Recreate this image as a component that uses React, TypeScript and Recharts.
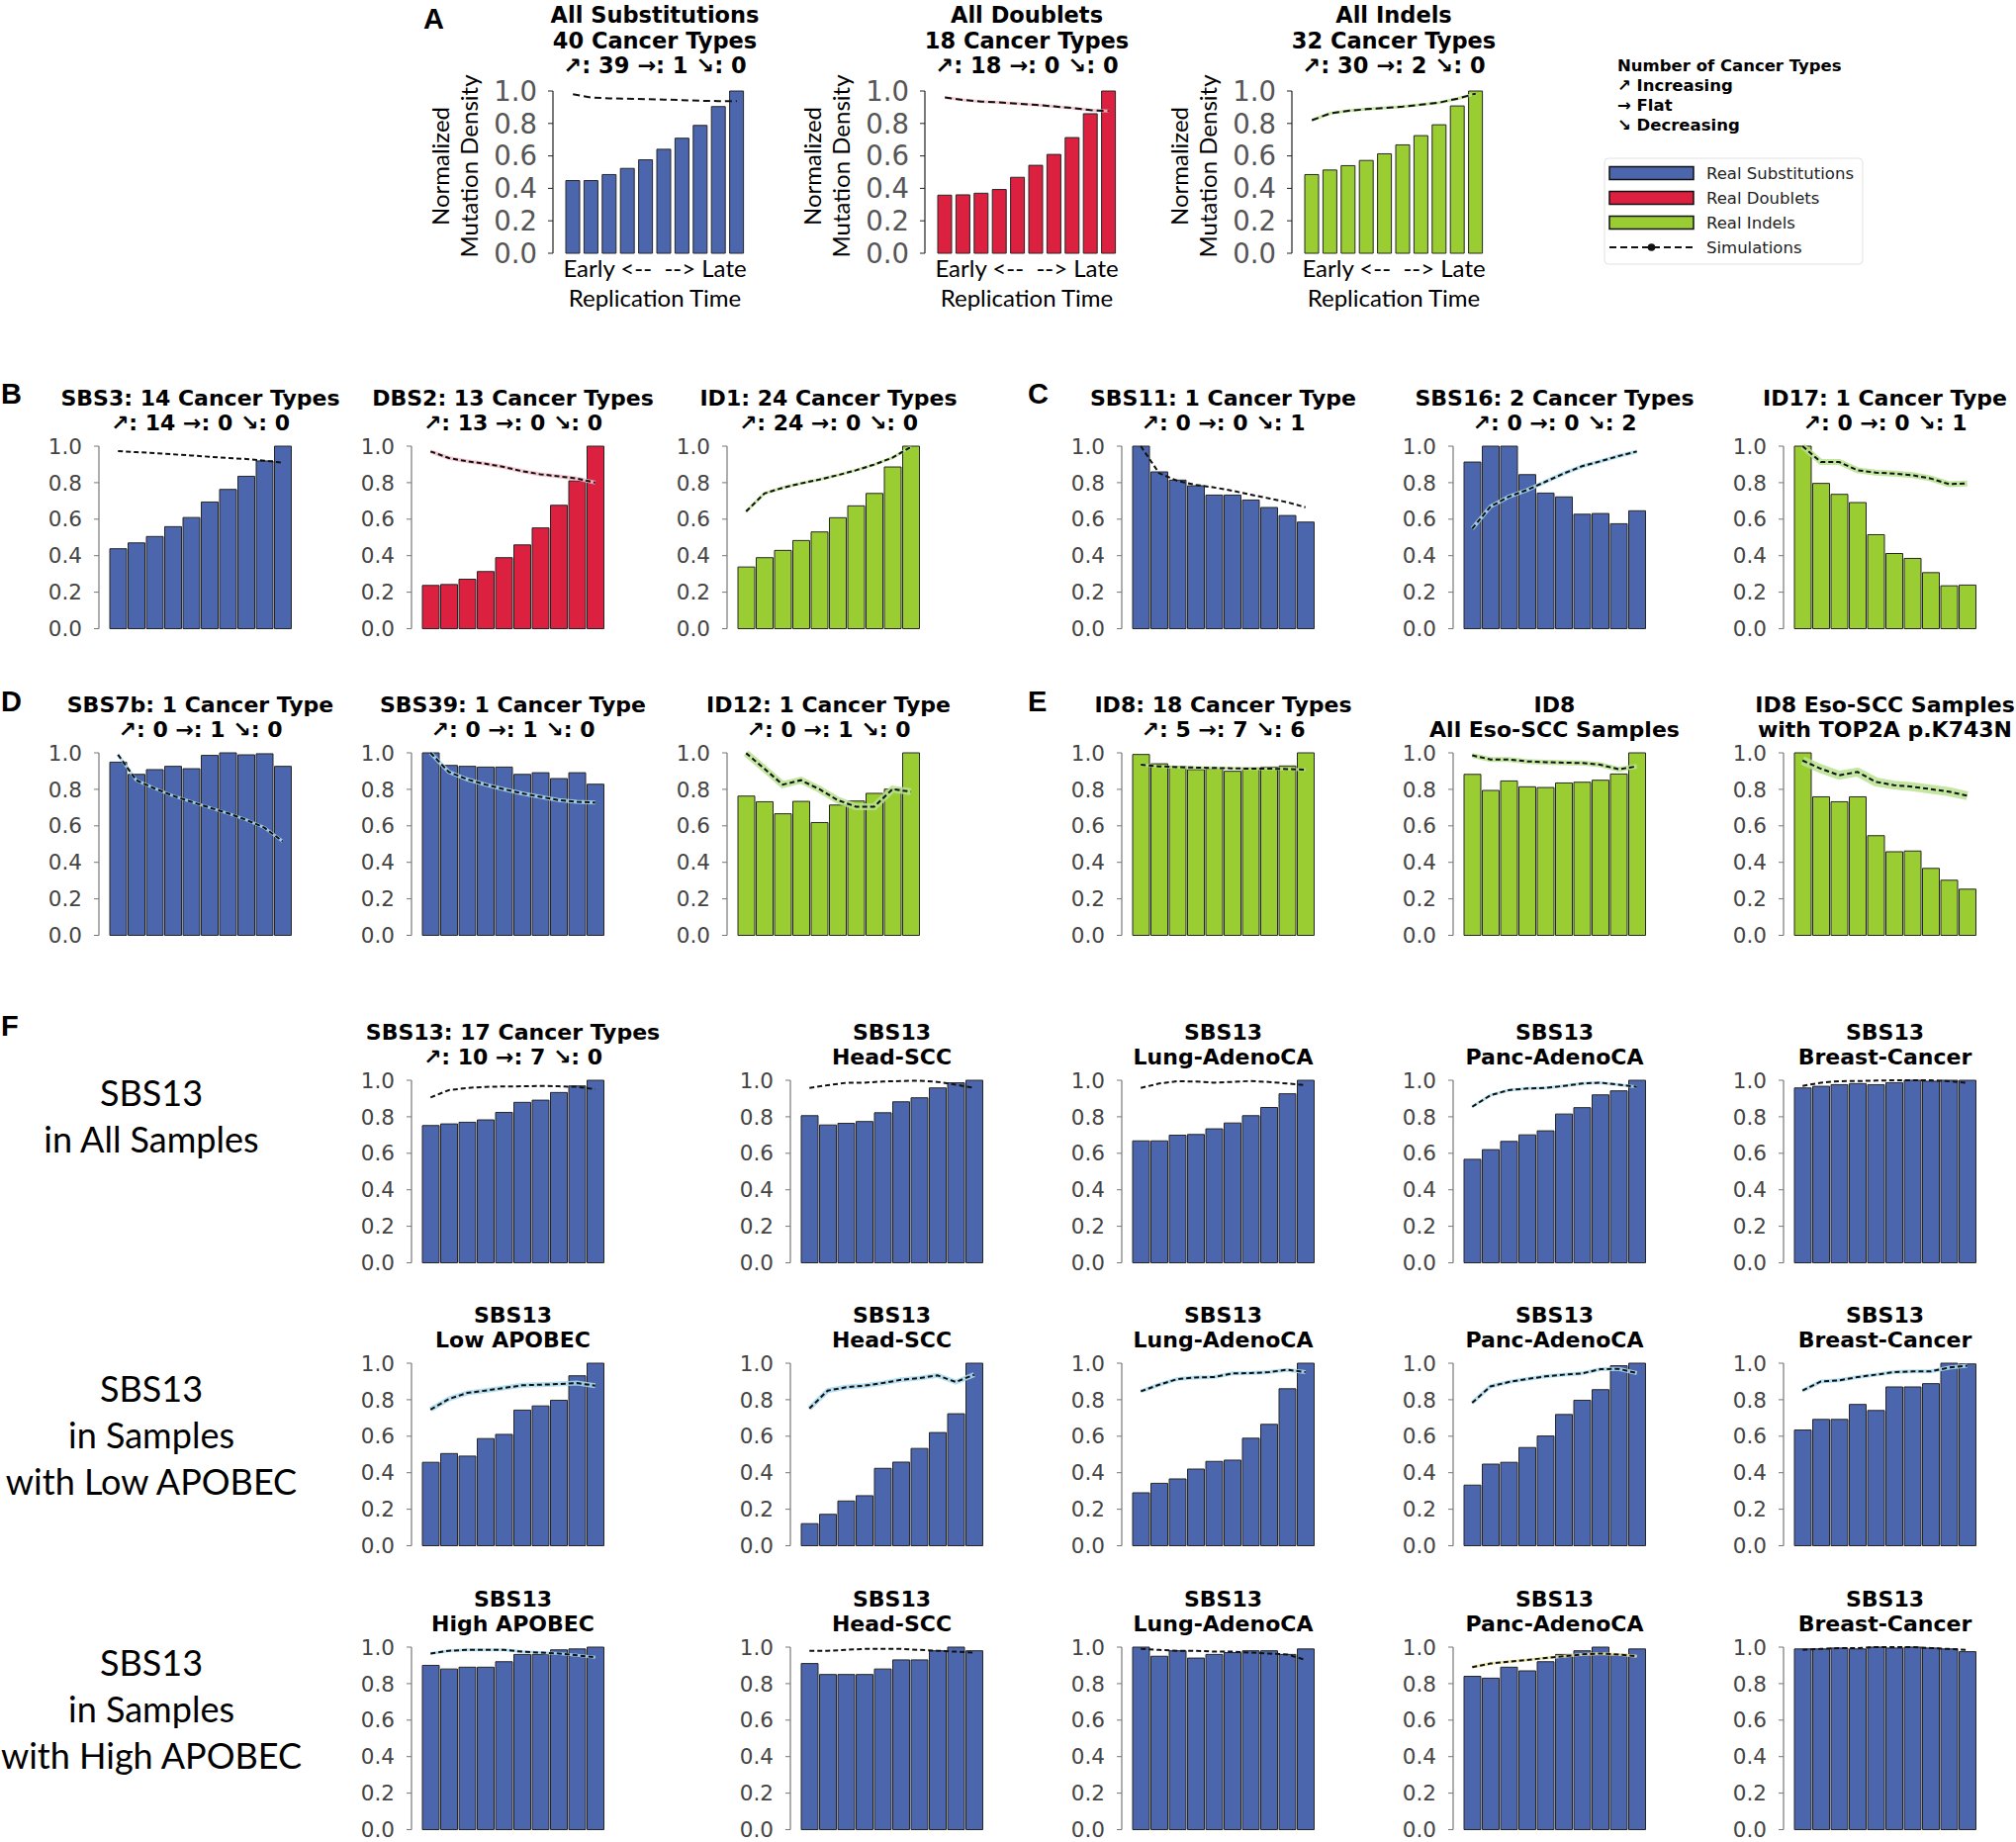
import React from 'react';
import { ComposedChart, Bar, Line, XAxis, YAxis } from 'recharts';

// ---------- shared categories / ticks ----------
const BINS = ['1', '2', '3', '4', '5', '6', '7', '8', '9', '10'];
const Y_TICKS = [0, 0.2, 0.4, 0.6, 0.8, 1.0];

// ---------- Panel A ----------
const allSubsReal = [0.448, 0.448, 0.485, 0.523, 0.576, 0.641, 0.709, 0.788, 0.904, 1.0];
const allSubsSim = [0.98, 0.96, 0.955, 0.953, 0.95, 0.947, 0.944, 0.94, 0.938, 0.937];
const allDoubletsReal = [0.358, 0.36, 0.37, 0.393, 0.468, 0.542, 0.609, 0.713, 0.86, 1.0];
const allDoubletsSim = [0.96, 0.945, 0.935, 0.93, 0.922, 0.915, 0.905, 0.895, 0.882, 0.876];
const allIndelsReal = [0.485, 0.513, 0.54, 0.572, 0.613, 0.668, 0.725, 0.792, 0.908, 1.0];
const allIndelsSim = [0.82, 0.862, 0.878, 0.888, 0.896, 0.904, 0.916, 0.929, 0.953, 0.984];

// ---------- Panel B ----------
const sbs3Real = [0.438, 0.47, 0.505, 0.559, 0.609, 0.694, 0.763, 0.835, 0.919, 1.0];
const sbs3Sim = [0.973, 0.967, 0.962, 0.955, 0.949, 0.942, 0.935, 0.93, 0.92, 0.91];
const dbs2Real = [0.237, 0.242, 0.271, 0.313, 0.389, 0.459, 0.552, 0.676, 0.81, 1.0];
const dbs2Sim = [0.971, 0.935, 0.917, 0.904, 0.886, 0.863, 0.846, 0.835, 0.823, 0.8];
const id1Real = [0.338, 0.389, 0.429, 0.483, 0.53, 0.608, 0.673, 0.741, 0.886, 1.0];
const id1Sim = [0.642, 0.741, 0.772, 0.796, 0.817, 0.841, 0.868, 0.899, 0.937, 0.995];

// ---------- Panel C ----------
const sbs11Real = [1.0, 0.859, 0.814, 0.783, 0.732, 0.732, 0.705, 0.664, 0.62, 0.584];
const sbs11Sim = [1.0, 0.852, 0.81, 0.788, 0.774, 0.756, 0.734, 0.714, 0.693, 0.665];
const sbs16Real = [0.913, 1.0, 1.0, 0.844, 0.743, 0.722, 0.627, 0.631, 0.575, 0.646];
const sbs16Sim = [0.548, 0.669, 0.723, 0.76, 0.805, 0.85, 0.89, 0.917, 0.946, 0.971];
const id17Real = [1.0, 0.796, 0.736, 0.691, 0.515, 0.412, 0.385, 0.307, 0.235, 0.239];
const id17Sim = [1.0, 0.913, 0.913, 0.868, 0.855, 0.85, 0.841, 0.823, 0.792, 0.796];

// ---------- Panel D ----------
const sbs7bReal = [0.949, 0.882, 0.908, 0.926, 0.913, 0.986, 1.0, 0.989, 0.995, 0.926];
const sbs7bSim = [0.99, 0.85, 0.805, 0.765, 0.732, 0.7, 0.669, 0.633, 0.59, 0.515];
const sbs39Real = [1.0, 0.931, 0.926, 0.922, 0.922, 0.882, 0.891, 0.859, 0.891, 0.828];
const sbs39Sim = [1.0, 0.895, 0.855, 0.826, 0.801, 0.778, 0.759, 0.741, 0.732, 0.727];
const id12Real = [0.763, 0.732, 0.666, 0.734, 0.618, 0.714, 0.736, 0.778, 0.801, 1.0];
const id12Sim = [0.998, 0.913, 0.826, 0.85, 0.801, 0.741, 0.705, 0.705, 0.801, 0.787];

// ---------- Panel E ----------
const id8Real = [0.991, 0.94, 0.926, 0.908, 0.913, 0.899, 0.917, 0.922, 0.928, 1.0];
const id8Sim = [0.935, 0.926, 0.922, 0.919, 0.917, 0.915, 0.913, 0.913, 0.911, 0.908];
const id8EsoReal = [0.882, 0.794, 0.846, 0.814, 0.81, 0.835, 0.839, 0.85, 0.884, 1.0];
const id8EsoSim = [0.986, 0.964, 0.964, 0.953, 0.949, 0.946, 0.944, 0.935, 0.91, 0.926];
const id8TopReal = [1.0, 0.759, 0.732, 0.759, 0.546, 0.458, 0.462, 0.367, 0.302, 0.253];
const id8TopSim = [0.958, 0.913, 0.877, 0.895, 0.841, 0.823, 0.814, 0.801, 0.787, 0.765];

// ---------- Panel F, row 1 (all samples) ----------
const f1AllReal = [0.752, 0.761, 0.77, 0.783, 0.824, 0.879, 0.891, 0.933, 0.969, 1.0];
const f1AllSim = [0.906, 0.946, 0.958, 0.964, 0.966, 0.967, 0.969, 0.967, 0.964, 0.951];
const f1HeadReal = [0.806, 0.755, 0.764, 0.774, 0.822, 0.882, 0.904, 0.958, 0.986, 1.0];
const f1HeadSim = [0.958, 0.973, 0.986, 0.987, 0.993, 0.996, 0.998, 0.991, 0.976, 0.958];
const f1LungReal = [0.668, 0.668, 0.699, 0.703, 0.734, 0.766, 0.806, 0.851, 0.926, 1.0];
const f1LungSim = [0.958, 0.982, 0.995, 0.993, 0.987, 0.991, 0.996, 0.991, 0.982, 0.973];
const f1PancReal = [0.567, 0.62, 0.665, 0.701, 0.723, 0.815, 0.85, 0.92, 0.942, 1.0];
const f1PancSim = [0.855, 0.918, 0.946, 0.955, 0.958, 0.969, 0.982, 0.987, 0.976, 0.964];
const f1BreastReal = [0.958, 0.967, 0.976, 0.982, 0.976, 0.987, 1.0, 0.995, 1.0, 1.0];
const f1BreastSim = [0.969, 0.987, 0.995, 0.996, 0.998, 1.0, 1.0, 1.0, 0.995, 0.986];

// ---------- Panel F, row 2 (low APOBEC) ----------
const f2AllReal = [0.457, 0.505, 0.491, 0.587, 0.61, 0.743, 0.766, 0.797, 0.931, 1.0];
const f2AllSim = [0.746, 0.804, 0.837, 0.85, 0.864, 0.879, 0.882, 0.886, 0.891, 0.877];
const f2HeadReal = [0.121, 0.172, 0.245, 0.274, 0.424, 0.458, 0.533, 0.62, 0.723, 1.0];
const f2HeadSim = [0.752, 0.85, 0.868, 0.877, 0.891, 0.909, 0.918, 0.933, 0.897, 0.937];
const f2LungReal = [0.29, 0.342, 0.366, 0.42, 0.462, 0.469, 0.589, 0.665, 0.86, 1.0];
const f2LungSim = [0.846, 0.882, 0.913, 0.922, 0.924, 0.944, 0.946, 0.951, 0.964, 0.951];
const f2PancReal = [0.332, 0.447, 0.457, 0.538, 0.601, 0.719, 0.797, 0.855, 0.986, 1.0];
const f2PancSim = [0.783, 0.873, 0.897, 0.913, 0.928, 0.937, 0.944, 0.967, 0.969, 0.946];
const f2BreastReal = [0.634, 0.692, 0.692, 0.774, 0.741, 0.87, 0.87, 0.888, 1.0, 0.996];
const f2BreastSim = [0.85, 0.9, 0.906, 0.924, 0.937, 0.951, 0.955, 0.955, 0.976, 0.986];

// ---------- Panel F, row 3 (high APOBEC) ----------
const f3AllReal = [0.9, 0.88, 0.89, 0.89, 0.92, 0.96, 0.96, 0.985, 0.99, 1.0];
const f3AllSim = [0.965, 0.98, 0.985, 0.985, 0.985, 0.975, 0.97, 0.965, 0.955, 0.945];
const f3HeadReal = [0.91, 0.85, 0.85, 0.85, 0.88, 0.93, 0.93, 0.98, 1.0, 0.98];
const f3HeadSim = [0.98, 0.98, 0.985, 0.99, 0.99, 0.99, 0.985, 0.98, 0.975, 0.97];
const f3LungReal = [1.0, 0.95, 0.98, 0.94, 0.96, 0.97, 0.98, 0.98, 0.96, 0.99];
const f3LungSim = [0.99, 0.985, 0.98, 0.98, 0.975, 0.975, 0.97, 0.965, 0.96, 0.93];
const f3PancReal = [0.84, 0.83, 0.89, 0.87, 0.92, 0.96, 0.98, 1.0, 0.96, 0.99];
const f3PancSim = [0.89, 0.91, 0.92, 0.93, 0.94, 0.95, 0.96, 0.965, 0.96, 0.95];
const f3BreastReal = [0.99, 0.99, 0.995, 0.99, 1.0, 0.995, 1.0, 0.995, 0.99, 0.975];
const f3BreastSim = [0.985, 0.99, 0.995, 0.995, 1.0, 1.0, 1.0, 0.995, 0.99, 0.985];

// ---------- text ----------
const LEGEND_TITLE = ['Number of Cancer Types', '\u2197 Increasing', '\u2192 Flat', '\u2198 Decreasing'];
const LEGEND_ITEMS = ['Real Substitutions', 'Real Doublets', 'Real Indels', 'Simulations'];

// ---------- styles ----------
const BLUE = '#4c66ae';
const RED = '#dc203f';
const GREEN = '#9acd32';
const LBLUE = '#a9dbee';
const LGREEN = '#b9e28f';
const LPINK = '#f3bfca';

type PanelCfg = {
  real: number[];
  sim: number[];
  color: string;
  band?: string;
  bandW?: number;
  x: number;
  top: number;
  title: string[];
};

const SMALL = { h: 184.5, pad: 10, span: 185, tickFont: 21.5, tickColor: '#444', axisColor: '#777', gap: 1, dash: '5 3', titleSize: 22, titleLH: 25 };
const BIG = { h: 164, pad: 11, span: 184, tickFont: 27.5, tickColor: '#555', axisColor: '#222', gap: 2, dash: '7 4', titleSize: 22.5, titleLH: 25.5 };

const fmt = (v: number) => v.toFixed(1);

function Panel({ cfg, st }: { cfg: PanelCfg; st: typeof SMALL }) {
  const YW = 80;
  const MT = 20;
  const MB = 22;
  const MR = 4;
  const plotW = st.span + 2 * st.pad;
  const data = BINS.map((b, i) => ({ bin: b, real: cfg.real[i], sim: cfg.sim[i] }));
  const cx = cfg.x + plotW / 2;
  const nLines = cfg.title.length;
  const titleTop = cfg.top - 24 - (nLines - 1) * st.titleLH - st.titleLH / 2 - (st === BIG ? 1.5 : 0);
  return (
    <>
      <div
        style={{
          position: 'absolute',
          left: cx - 250,
          width: 500,
          top: titleTop,
          textAlign: 'center',
          fontFamily: 'DejaVu Sans',
          fontWeight: 'bold',
          fontSize: st.titleSize,
          lineHeight: `${st.titleLH}px`,
          color: '#000',
          whiteSpace: 'pre',
        }}
      >
        {cfg.title.join('\n')}
      </div>
      <div style={{ position: 'absolute', left: cfg.x - YW, top: cfg.top - MT }}>
        <ComposedChart
          width={YW + plotW + MR}
          height={MT + st.h + MB}
          data={data}
          margin={{ top: MT, right: MR, bottom: MB, left: 0 }}
          barCategoryGap={st.gap}
        >
          <XAxis dataKey="bin" hide padding={{ left: st.pad, right: st.pad }} />
          <YAxis
            domain={[0, 1]}
            ticks={Y_TICKS}
            interval={0}
            tickFormatter={fmt}
            width={YW}
            tickSize={5}
            tickMargin={st === BIG ? 11 : 12}
            axisLine={{ stroke: st.axisColor, strokeWidth: 1.2 }}
            tickLine={{ stroke: st.axisColor, strokeWidth: 1 }}
            tick={{ fill: st.tickColor, fontSize: st.tickFont, fontFamily: 'DejaVu Sans' }}
          />
          <Bar dataKey="real" fill={cfg.color} stroke="#262626" strokeWidth={1} isAnimationActive={false} />
          {cfg.band ? (
            <Line
              dataKey="sim"
              type="linear"
              stroke={cfg.band}
              strokeWidth={cfg.bandW || 5}
              strokeOpacity={0.85}
              dot={false}
              activeDot={false}
              isAnimationActive={false}
            />
          ) : null}
          <Line
            dataKey="sim"
            type="linear"
            stroke="#111"
            strokeWidth={2}
            strokeDasharray={st.dash}
            dot={false}
            activeDot={false}
            isAnimationActive={false}
          />
        </ComposedChart>
      </div>
    </>
  );
}

const A_PANELS: PanelCfg[] = [
  { real: allSubsReal, sim: allSubsSim, color: BLUE, x: 559, top: 92.3, title: ['All Substitutions', '40 Cancer Types', '\u2197: 39 \u2192: 1 \u2198: 0'] },
  { real: allDoubletsReal, sim: allDoubletsSim, color: RED, band: LPINK, bandW: 3, x: 935, top: 92.3, title: ['All Doublets', '18 Cancer Types', '\u2197: 18 \u2192: 0 \u2198: 0'] },
  { real: allIndelsReal, sim: allIndelsSim, color: GREEN, band: LGREEN, bandW: 3, x: 1306, top: 92.3, title: ['All Indels', '32 Cancer Types', '\u2197: 30 \u2192: 2 \u2198: 0'] },
];

const T_BC = 451;
const T_DE = 761;
const T_F = [1092, 1378, 1665];
const COL_L = [100, 416, 735];
const COL_R = [1134, 1469, 1803];
const COL_F = [416, 799, 1134, 1469, 1803];

const SMALL_PANELS: PanelCfg[] = [
  { real: sbs3Real, sim: sbs3Sim, color: BLUE, x: COL_L[0], top: T_BC, title: ['SBS3: 14 Cancer Types', '\u2197: 14 \u2192: 0 \u2198: 0'] },
  { real: dbs2Real, sim: dbs2Sim, color: RED, band: LPINK, bandW: 4, x: COL_L[1], top: T_BC, title: ['DBS2: 13 Cancer Types', '\u2197: 13 \u2192: 0 \u2198: 0'] },
  { real: id1Real, sim: id1Sim, color: GREEN, band: LGREEN, bandW: 3, x: COL_L[2], top: T_BC, title: ['ID1: 24 Cancer Types', '\u2197: 24 \u2192: 0 \u2198: 0'] },
  { real: sbs11Real, sim: sbs11Sim, color: BLUE, x: COL_R[0], top: T_BC, title: ['SBS11: 1 Cancer Type', '\u2197: 0 \u2192: 0 \u2198: 1'] },
  { real: sbs16Real, sim: sbs16Sim, color: BLUE, band: LBLUE, bandW: 4, x: COL_R[1], top: T_BC, title: ['SBS16: 2 Cancer Types', '\u2197: 0 \u2192: 0 \u2198: 2'] },
  { real: id17Real, sim: id17Sim, color: GREEN, band: LGREEN, bandW: 6, x: COL_R[2], top: T_BC, title: ['ID17: 1 Cancer Type', '\u2197: 0 \u2192: 0 \u2198: 1'] },
  { real: sbs7bReal, sim: sbs7bSim, color: BLUE, band: LBLUE, bandW: 3, x: COL_L[0], top: T_DE, title: ['SBS7b: 1 Cancer Type', '\u2197: 0 \u2192: 1 \u2198: 0'] },
  { real: sbs39Real, sim: sbs39Sim, color: BLUE, band: LBLUE, bandW: 4, x: COL_L[1], top: T_DE, title: ['SBS39: 1 Cancer Type', '\u2197: 0 \u2192: 1 \u2198: 0'] },
  { real: id12Real, sim: id12Sim, color: GREEN, band: LGREEN, bandW: 7, x: COL_L[2], top: T_DE, title: ['ID12: 1 Cancer Type', '\u2197: 0 \u2192: 1 \u2198: 0'] },
  { real: id8Real, sim: id8Sim, color: GREEN, band: LGREEN, bandW: 3, x: COL_R[0], top: T_DE, title: ['ID8: 18 Cancer Types', '\u2197: 5 \u2192: 7 \u2198: 6'] },
  { real: id8EsoReal, sim: id8EsoSim, color: GREEN, band: LGREEN, bandW: 5, x: COL_R[1], top: T_DE, title: ['ID8', 'All Eso-SCC Samples'] },
  { real: id8TopReal, sim: id8TopSim, color: GREEN, band: LGREEN, bandW: 9, x: COL_R[2], top: T_DE, title: ['ID8 Eso-SCC Samples', 'with TOP2A p.K743N'] },
  // F row 1
  { real: f1AllReal, sim: f1AllSim, color: BLUE, x: COL_F[0], top: T_F[0], title: ['SBS13: 17 Cancer Types', '\u2197: 10 \u2192: 7 \u2198: 0'] },
  { real: f1HeadReal, sim: f1HeadSim, color: BLUE, x: COL_F[1], top: T_F[0], title: ['SBS13', 'Head-SCC'] },
  { real: f1LungReal, sim: f1LungSim, color: BLUE, x: COL_F[2], top: T_F[0], title: ['SBS13', 'Lung-AdenoCA'] },
  { real: f1PancReal, sim: f1PancSim, color: BLUE, band: LBLUE, bandW: 3, x: COL_F[3], top: T_F[0], title: ['SBS13', 'Panc-AdenoCA'] },
  { real: f1BreastReal, sim: f1BreastSim, color: BLUE, x: COL_F[4], top: T_F[0], title: ['SBS13', 'Breast-Cancer'] },
  // F row 2
  { real: f2AllReal, sim: f2AllSim, color: BLUE, band: LBLUE, bandW: 5, x: COL_F[0], top: T_F[1], title: ['SBS13', 'Low APOBEC'] },
  { real: f2HeadReal, sim: f2HeadSim, color: BLUE, band: LBLUE, bandW: 5, x: COL_F[1], top: T_F[1], title: ['SBS13', 'Head-SCC'] },
  { real: f2LungReal, sim: f2LungSim, color: BLUE, band: LBLUE, bandW: 4, x: COL_F[2], top: T_F[1], title: ['SBS13', 'Lung-AdenoCA'] },
  { real: f2PancReal, sim: f2PancSim, color: BLUE, band: LBLUE, bandW: 4, x: COL_F[3], top: T_F[1], title: ['SBS13', 'Panc-AdenoCA'] },
  { real: f2BreastReal, sim: f2BreastSim, color: BLUE, band: LBLUE, bandW: 4, x: COL_F[4], top: T_F[1], title: ['SBS13', 'Breast-Cancer'] },
  // F row 3
  { real: f3AllReal, sim: f3AllSim, color: BLUE, band: LBLUE, bandW: 3, x: COL_F[0], top: T_F[2], title: ['SBS13', 'High APOBEC'] },
  { real: f3HeadReal, sim: f3HeadSim, color: BLUE, x: COL_F[1], top: T_F[2], title: ['SBS13', 'Head-SCC'] },
  { real: f3LungReal, sim: f3LungSim, color: BLUE, x: COL_F[2], top: T_F[2], title: ['SBS13', 'Lung-AdenoCA'] },
  { real: f3PancReal, sim: f3PancSim, color: BLUE, band: '#e8e4a0', bandW: 3, x: COL_F[3], top: T_F[2], title: ['SBS13', 'Panc-AdenoCA'] },
  { real: f3BreastReal, sim: f3BreastSim, color: BLUE, x: COL_F[4], top: T_F[2], title: ['SBS13', 'Breast-Cancer'] },
];

const ROW_LABELS = [
  { lines: ['SBS13', 'in All Samples'], firstY: 1104 },
  { lines: ['SBS13', 'in Samples', 'with Low APOBEC'], firstY: 1403 },
  { lines: ['SBS13', 'in Samples', 'with High APOBEC'], firstY: 1680 },
];

const LETTERS = [
  { t: 'A', x: 428, y: 19 },
  { t: 'B', x: 1, y: 398 },
  { t: 'C', x: 1039, y: 398 },
  { t: 'D', x: 1, y: 709 },
  { t: 'E', x: 1039, y: 709 },
  { t: 'F', x: 1, y: 1037 },
];

function Legend() {
  const colors = [BLUE, RED, GREEN];
  return (
    <svg style={{ position: 'absolute', left: 1600, top: 40 }} width={300} height={240}>
      <g fontFamily="DejaVu Sans" fontWeight="bold" fontSize={16.5} fill="#000">
        {LEGEND_TITLE.map((t, i) => (
          <text key={t} x={35} y={26.7 + i * 19.8} dominantBaseline="central">
            {t}
          </text>
        ))}
      </g>
      <rect x={22} y={120} width={261} height={107} rx={4} fill="#fff" stroke="#e2e2e2" strokeWidth={1} />
      {LEGEND_ITEMS.map((t, i) => {
        const y = 135 + i * 25;
        return (
          <g key={t}>
            {i < 3 ? (
              <rect x={27} y={y - 6.5} width={85} height={13} fill={colors[i]} stroke="#111" strokeWidth={1.5} />
            ) : (
              <g>
                <line x1={27} x2={112} y1={y} y2={y} stroke="#111" strokeWidth={2} strokeDasharray="7 4" />
                <circle cx={69.5} cy={y} r={3.8} fill="#111" />
              </g>
            )}
            <text x={125} y={y} dominantBaseline="central" fontFamily="DejaVu Sans" fontSize={16.5} fill="#222">
              {t}
            </text>
          </g>
        );
      })}
    </svg>
  );
}

export default function App() {
  return (
    <div
      style={{
        position: 'absolute',
        left: 0,
        top: 0,
        width: 2038,
        height: 1862,
        background: '#fff',
        overflow: 'hidden',
      }}
    >
      {LETTERS.map((l) => (
        <div
          key={l.t}
          style={{
            position: 'absolute',
            left: l.x,
            top: l.y - 18,
            fontFamily: 'Liberation Sans',
            fontWeight: 'bold',
            fontSize: 29,
            lineHeight: '36px',
            color: '#000',
          }}
        >
          {l.t}
        </div>
      ))}

      {A_PANELS.map((p, i) => (
        <Panel key={'a' + i} cfg={p} st={BIG} />
      ))}

      {A_PANELS.map((p, i) => {
        const cx = p.x + BIG.pad + BIG.span / 2;
        return (
          <React.Fragment key={'alab' + i}>
            <div
              style={{
                position: 'absolute',
                left: p.x - 199.5,
                top: 168 - 29,
                width: 200,
                height: 58,
                transform: 'rotate(-90deg)',
                transformOrigin: '100px 29px',
                textAlign: 'center',
                fontFamily: 'Lato',
                fontSize: 24,
                lineHeight: '28.6px',
                color: '#000',
                whiteSpace: 'pre',
              }}
            >
              {'Normalized\nMutation Density'}
            </div>
            <div
              style={{
                position: 'absolute',
                left: cx - 150,
                width: 300,
                top: 271 - 15,
                textAlign: 'center',
                fontFamily: 'Lato',
                fontSize: 24,
                lineHeight: '30px',
                color: '#000',
                whiteSpace: 'pre',
              }}
            >
              {'Early <--  --> Late\nReplication Time'}
            </div>
          </React.Fragment>
        );
      })}

      <Legend />

      {SMALL_PANELS.map((p, i) => (
        <Panel key={'s' + i} cfg={p} st={SMALL} />
      ))}

      {ROW_LABELS.map((r, i) => (
        <div
          key={'row' + i}
          style={{
            position: 'absolute',
            left: 0,
            width: 306,
            top: r.firstY - 23.5,
            textAlign: 'center',
            fontFamily: 'Lato',
            fontSize: 36,
            lineHeight: '47px',
            color: '#000',
            whiteSpace: 'pre',
          }}
        >
          {r.lines.join('\n')}
        </div>
      ))}
    </div>
  );
}
